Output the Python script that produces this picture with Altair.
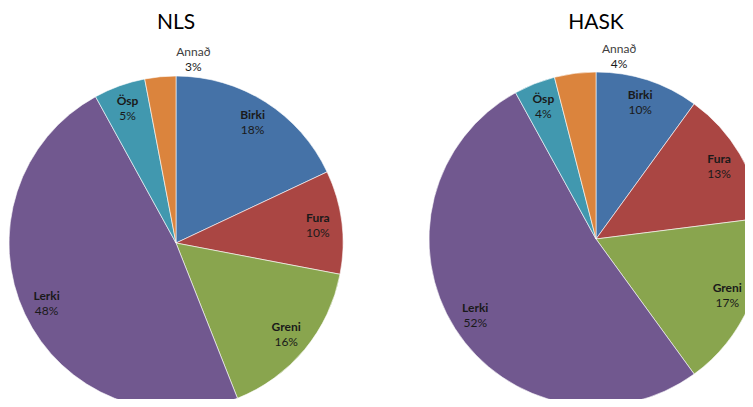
import altair as alt
import pandas as pd

categories = ["Birki", "Fura", "Greni", "Lerki", "Ösp", "Annað"]
nls_values = [18, 10, 16, 48, 5, 3]
hask_values = [10, 13, 17, 52, 4, 4]
groups = ["NLS", "HASK"]
colors = ["#4572A7", "#AA4643", "#89A54E", "#71588F", "#4198AF", "#DB843D"]

rows = []
for g, vals in zip(groups, [nls_values, hask_values]):
    for i, (c, v) in enumerate(zip(categories, vals)):
        rows.append({"group": g, "cat": c, "pct": v, "idx": i})
df = pd.DataFrame(rows)

color = alt.Color("cat:N", scale=alt.Scale(domain=categories, range=colors), legend=None)
FONT = "Lato"
R = 167
centers = {"NLS": (168, 235), "HASK": (588, 231)}

layers = []
for g in groups:
    cx, cy = centers[g]
    base = alt.Chart(df).transform_filter(alt.datum.group == g).transform_calculate(
        lr="datum.cat == 'Annað' ? 184 : 143",
        ptxt="datum.pct + '%'",
    )
    arc = base.mark_arc(radius=R, stroke="white", strokeWidth=0.6).encode(
        theta=alt.Theta("pct:Q", stack=True),
        color=color,
        order=alt.Order("idx:Q"),
        x=alt.value(cx), y=alt.value(cy),
    )
    layers.append(arc)
    for inside in [True, False]:
        col = "#1a1a1a" if inside else "#404040"
        name = base.mark_text(
            font=FONT, fontSize=12, fontWeight="bold" if inside else "normal",
            dy=-7.5, color=col,
        ).encode(
            theta=alt.Theta("pct:Q", stack=True),
            order=alt.Order("idx:Q"),
            radius=alt.Radius("lr:Q", scale=None),
            text=alt.condition(
                (alt.datum.cat != "Annað") if inside else (alt.datum.cat == "Annað"),
                "cat:N", alt.value(""),
            ),
            x=alt.value(cx), y=alt.value(cy),
        )
        layers.append(name)
    pct = base.mark_text(font=FONT, fontSize=12, dy=7.5, color="#1a1a1a").encode(
        theta=alt.Theta("pct:Q", stack=True),
        order=alt.Order("idx:Q"),
        radius=alt.Radius("lr:Q", scale=None),
        text="ptxt:N",
        x=alt.value(cx), y=alt.value(cy),
    )
    title = alt.Chart(pd.DataFrame({"t": [g]})).mark_text(
        font=FONT, fontSize=21, color="#000000", baseline="middle"
    ).encode(text="t:N", x=alt.value(cx), y=alt.value(15))
    layers += [pct, title]

chart = alt.layer(*layers).properties(
    width=737, height=391, padding=0,
    autosize=alt.AutoSizeParams(type="none"),
).configure_view(stroke=None)

chart.save("out.html", embed_options={"renderer": "svg", "actions": False})
